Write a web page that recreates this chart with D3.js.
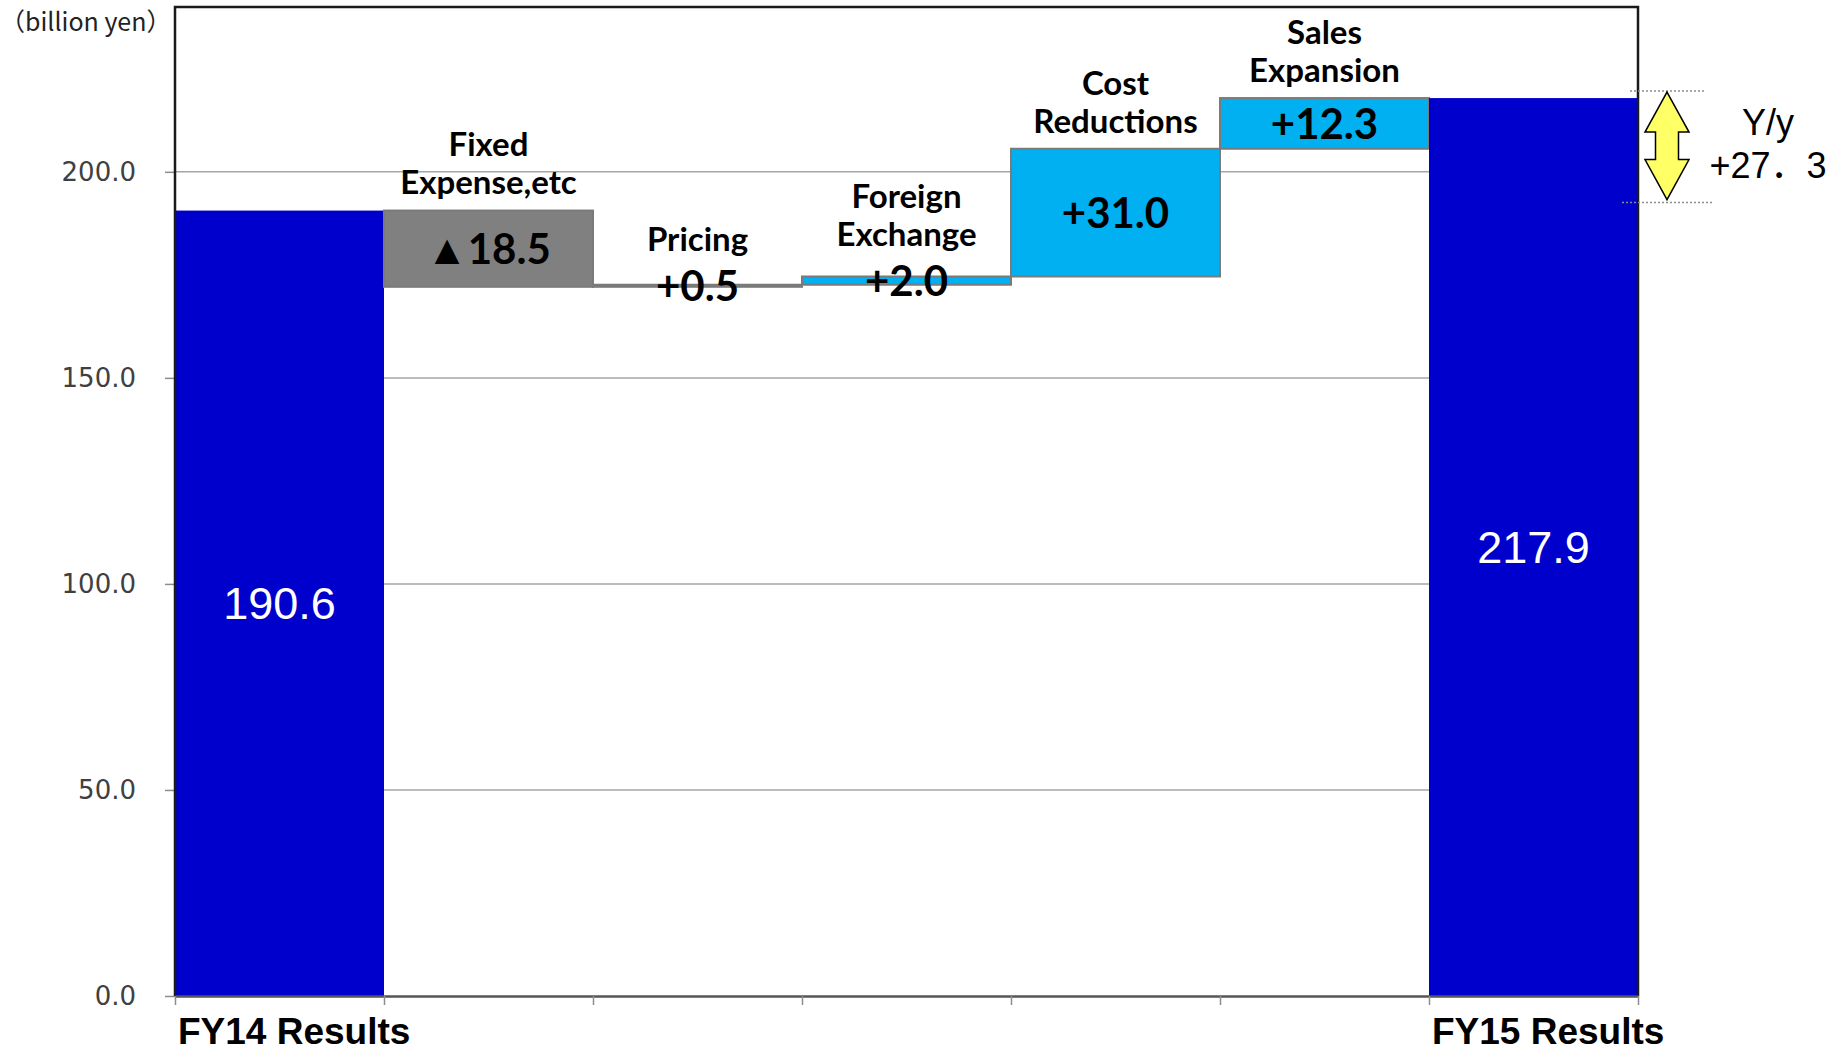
<!DOCTYPE html>
<html>
<head>
<meta charset="utf-8">
<script src="https://cdn.jsdelivr.net/npm/d3@7"></script>
<style>
  html, body { margin: 0; padding: 0; background: #fff; }
  svg { display: block; }
</style>
</head>
<body>
<svg id="chart" width="1847" height="1051"></svg>
<script>
// Operating income bridge, FY14 -> FY15 (billion yen)
const categories = ["FY14 Results", "Fixed Expense,etc", "Pricing", "Foreign Exchange",
                    "Cost Reductions", "Sales Expansion", "FY15 Results"];
const headerLines = [[], ["Fixed", "Expense,etc"], ["Pricing"], ["Foreign", "Exchange"],
                     ["Cost", "Reductions"], ["Sales", "Expansion"], []];
const kinds = ["total", "delta", "delta", "delta", "delta", "delta", "total"];
const values = [190.6, -18.5, 0.5, 2.0, 31.0, 12.3, 217.9];
const valueLabels = ["190.6", "▲18.5", "+0.5", "+2.0", "+31.0", "+12.3", "217.9"];
const axisLabels = ["FY14 Results", "", "", "", "", "", "FY15 Results"];
const yTicks = [0, 50, 100, 150, 200];
const yMax = 240;
const yoyValue = 27.3;
const yoyLabels = ["Y/y", "+27．3"];
const unitLabel = "（billion yen）";

const colors = { total: "#0000cc", up: "#00b0f0", down: "#808080" };

// build the waterfall segments
let running = 0;
const segs = values.map((v, i) => {
  let lo, hi;
  if (kinds[i] === "total") { lo = 0; hi = v; running = v; }
  else { const start = running; running += v; lo = Math.min(start, running); hi = Math.max(start, running); }
  return { i, cat: categories[i], v, lo, hi, kind: kinds[i] };
});

const svg = d3.select("#chart");
const plot = { left: 175, right: 1638, top: 7, bottom: 996 };

const x = d3.scaleBand().domain(categories).range([plot.left, plot.right]).padding(0);
const y = d3.scaleLinear().domain([0, yMax]).range([plot.bottom, plot.top]);

// gridlines
svg.append("g")
  .selectAll("line")
  .data(yTicks.filter(t => t > 0))
  .join("line")
  .attr("x1", plot.left).attr("x2", plot.right)
  .attr("y1", d => y(d)).attr("y2", d => y(d))
  .attr("stroke", "#a6a6a6").attr("stroke-width", 1.5);

// y axis
const yAxis = svg.append("g")
  .attr("transform", `translate(${plot.left},0)`)
  .call(d3.axisLeft(y).tickValues(yTicks).tickFormat(d3.format(".1f")).tickSize(10).tickPadding(29));
yAxis.select(".domain").remove();
yAxis.selectAll(".tick line").attr("stroke", "#8c8c8c").attr("stroke-width", 1.5);
yAxis.selectAll(".tick text")
  .attr("font-family", "DejaVu Sans, sans-serif").attr("font-size", 26).attr("fill", "#404040");

// bars
svg.append("g")
  .selectAll("rect")
  .data(segs)
  .join("rect")
  .attr("x", d => x(d.cat))
  .attr("width", x.bandwidth())
  .attr("y", d => y(d.hi))
  .attr("height", d => Math.max(1, y(d.lo) - y(d.hi)))
  .attr("fill", d => d.kind === "total" ? colors.total : (d.v < 0 ? colors.down : colors.up))
  .attr("stroke", d => d.kind === "total" ? "none" : "#7a7a7a")
  .attr("stroke-width", 2);

// plot frame: top, left, right in dark; bottom axis line
svg.append("path")
  .attr("d", `M${plot.left},${plot.bottom} V${plot.top} H${plot.right} V${plot.bottom}`)
  .attr("fill", "none").attr("stroke", "#1a1a1a").attr("stroke-width", 2.5);

// x axis with ticks at category boundaries
const xb = d3.scaleLinear().domain([0, categories.length]).range([plot.left, plot.right]);
const xAxis = svg.append("g")
  .attr("transform", `translate(0,${plot.bottom})`)
  .call(d3.axisBottom(xb).tickValues(d3.range(categories.length + 1)).tickFormat("").tickSize(9).tickSizeOuter(0));
xAxis.select(".domain").attr("stroke", "#555").attr("stroke-width", 2.5);
xAxis.selectAll(".tick line").attr("stroke", "#8c8c8c").attr("stroke-width", 1.5);

// category axis labels (FY14 / FY15)
svg.append("g")
  .selectAll("text")
  .data(segs.filter(d => axisLabels[d.i]))
  .join("text")
  .attr("x", d => x(d.cat) + 3)
  .attr("y", 1044)
  .attr("font-family", "Liberation Sans, Arial, sans-serif")
  .attr("font-weight", "bold").attr("font-size", 37).attr("fill", "#000")
  .text(d => axisLabels[d.i]);

// value labels inside / on bars
const mid = d => (y(d.lo) + y(d.hi)) / 2;
svg.append("g")
  .selectAll("text")
  .data(segs)
  .join("text")
  .attr("x", d => x(d.cat) + x.bandwidth() / 2)
  .attr("y", d => mid(d))
  .attr("dy", "0.36em")
  .attr("text-anchor", "middle")
  .attr("font-family", d => d.kind === "total" ? "Liberation Sans, Arial, sans-serif" : "Lato, sans-serif")
  .attr("font-weight", d => d.kind === "total" ? "normal" : "bold")
  .attr("font-size", d => d.kind === "total" ? 45 : 42)
  .attr("fill", d => d.kind === "total" ? "#fff" : "#000")
  .text(d => valueLabels[d.i]);

// category headers above the step bars
const lineGap = 38;
svg.append("g")
  .selectAll("g")
  .data(segs.filter(d => headerLines[d.i].length))
  .join("g")
  .each(function (d) {
    const lines = headerLines[d.i];
    const lastCenter = Math.min(y(d.hi) - 28, mid(d) - 47);
    d3.select(this).selectAll("text")
      .data(lines)
      .join("text")
      .attr("x", x(d.cat) + x.bandwidth() / 2)
      .attr("y", (t, k) => lastCenter - (lines.length - 1 - k) * lineGap)
      .attr("dy", "0.36em")
      .attr("text-anchor", "middle")
      .attr("font-family", "Lato, sans-serif")
      .attr("font-weight", "bold").attr("font-size", 33).attr("fill", "#000")
      .text(t => t);
  });

// unit label
svg.append("text")
  .attr("x", 0).attr("y", 22).attr("dy", "0.36em")
  .attr("font-family", "Noto Sans CJK JP, sans-serif")
  .attr("font-size", 25).attr("fill", "#222")
  .text(unitLabel);

// year-over-year annotation: dotted guides and double arrow
const fy14 = values[0], fy15 = fy14 + yoyValue;
const arrowTop = y(fy15) - 6, arrowBot = y(fy14) - 11;
const ax = plot.right + 29, headW = 22, shaftW = 11.5, headH = 40;

svg.append("g")
  .selectAll("line")
  .data([{ y: arrowTop - 1, x1: plot.right - 8, x2: plot.right + 67 },
         { y: arrowBot + 3, x1: plot.right - 16, x2: plot.right + 74 }])
  .join("line")
  .attr("x1", d => d.x1).attr("x2", d => d.x2)
  .attr("y1", d => d.y).attr("y2", d => d.y)
  .attr("stroke", "#8c8c8c").attr("stroke-width", 1.5).attr("stroke-dasharray", "2,2");

svg.append("path")
  .attr("d", [
    `M${ax},${arrowTop}`,
    `L${ax + headW},${arrowTop + headH}`,
    `L${ax + shaftW},${arrowTop + headH}`,
    `L${ax + shaftW},${arrowBot - headH}`,
    `L${ax + headW},${arrowBot - headH}`,
    `L${ax},${arrowBot}`,
    `L${ax - headW},${arrowBot - headH}`,
    `L${ax - shaftW},${arrowBot - headH}`,
    `L${ax - shaftW},${arrowTop + headH}`,
    `L${ax - headW},${arrowTop + headH}`,
    "Z"].join(" "))
  .attr("fill", "#ffff66").attr("stroke", "#000").attr("stroke-width", 1.5);

svg.append("g")
  .selectAll("text")
  .data(yoyLabels)
  .join("text")
  .attr("x", 1768)
  .attr("y", (t, k) => 122 + k * 43)
  .attr("dy", "0.36em")
  .attr("text-anchor", "middle")
  .attr("font-family", "Liberation Sans, Arial, Noto Sans CJK JP, sans-serif")
  .attr("font-size", 36).attr("fill", "#000")
  .text(t => t);
</script>
</body>
</html>
